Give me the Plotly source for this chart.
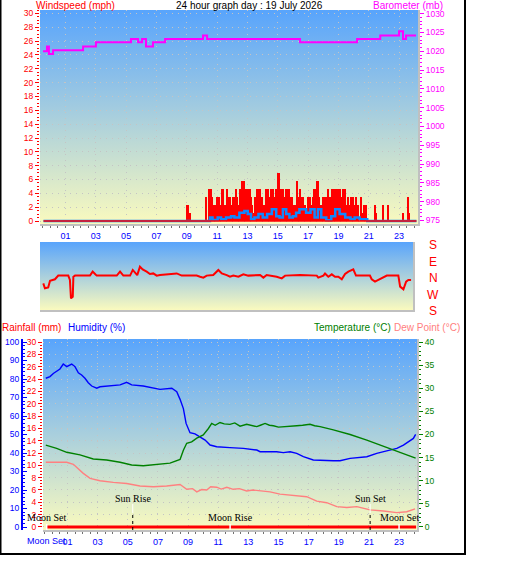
import base64
import plotly.graph_objects as go

# ---------------- data ----------------
hour_ticks = [1, 3, 5, 7, 9, 11, 13, 15, 17, 19, 21, 23]
hour_labels = ["01", "03", "05", "07", "09", "11", "13", "15", "17", "19", "21", "23"]
half_hours = [k * 0.5 for k in range(-1, 50)]

log_start = -0.45
log_end = 24.15

# wind gust (mph), 5-minute samples in the windy part of the day
gust_step = 1 / 12
gust_dense_start = 10.25
gust_dense_mph = [
    3.5, 0, 0, 4.6, 4.6, 3.5, 1.2, 2.3, 2.3, 3.5,
    1.2, 3.5, 2.3, 4.6, 4.6, 2.3, 1.2, 4.6, 3.5, 3.5,
    2.3, 1.2, 3.5, 3.5, 4.6, 3.5, 2.3, 4.6, 4.6, 5.8,
    5.8, 4.6, 3.5, 4.6, 4.6, 4.6, 3.5, 2.3, 1.2, 3.5,
    3.5, 4.6, 4.6, 4.6, 3.5, 3.5, 2.3, 1.2, 4.6, 4.6,
    3.5, 3.5, 4.6, 4.6, 3.5, 3.5, 4.6, 6.9, 6.9, 3.5,
    4.6, 4.6, 3.5, 3.5, 4.6, 4.6, 4.6, 3.5, 3.5, 2.3,
    1.2, 2.3, 5.8, 3.5, 3.5, 4.6, 3.5, 3.5, 2.3, 2.3,
    1.2, 3.5, 3.5, 3.5, 2.3, 3.5, 4.6, 4.6, 5.8, 5.8,
    3.5, 2.3, 1.2, 3.5, 3.5, 3.5, 2.3, 4.6, 3.5, 3.5,
    4.6, 4.6, 4.6, 4.6, 4.6, 4.6, 4.6, 3.5, 3.5, 4.6,
    4.6, 2.3, 1.2, 3.5, 2.3, 3.5, 1.2, 3.5, 2.3, 3.5,
    1.2, 2.3, 0, 3.5, 1.2, 2.3, 0, 2.3, 0,
]
gust_sparse_hours = [9.04, 9.12, 9.20, 21.42, 21.50, 21.97, 22.26, 23.27, 23.61, 23.69]
gust_sparse_mph = [2.3, 2.3, 1.2, 2.3, 1.2, 2.3, 2.3, 1.2, 3.5, 1.2]
gust_base_hours = [log_start, log_end]
gust_base_mph = [0, 0]

avg_hours = [-0.45, 10.45, 10.53, 10.7, 11.04, 11.26, 11.59, 11.92, 12.14, 12.47,
             12.8, 13.02, 13.24, 13.46, 13.73, 14.01, 14.3, 14.61, 14.9, 15.12,
             15.34, 15.56, 15.77, 15.99, 16.21, 16.43, 16.65, 16.87, 17.16, 17.43,
             17.65, 17.87, 18.2, 18.53, 18.79, 19.08, 19.45, 19.8, 20.07, 20.4,
             20.73, 20.9, 24.15]
avg_mph = [0, 0, 0.5, 0.15, 0.5, 0.25, 0.5, 0.7, 0.5, 1.2,
           1.45, 1.0, 0.25, 0.5, 1.0, 0.5, 1.0, 1.7, 0.7, 0.5,
           1.7, 1.0, 0.5, 0.7, 1.2, 1.7, 1.7, 1.2, 1.7, 0.5,
           1.7, 0.5, 0.1, 0.7, 1.7, 1.0, 0.5, 0.25, 0.5, 0.25,
           0.25, 0, 0]

baro_hours = [-0.48, -0.22, -0.09, 0.18, 2.16, 3.01, 5.32, 5.79, 6.05, 6.31, 6.77,
              7.57, 10.07, 10.34, 16.47, 20.23, 21.76, 23.0, 23.26, 23.46, 24.12]
baro_mb = [1020.0, 1021.3, 1019.3, 1020.3, 1021.3, 1022.4, 1023.3, 1022.4, 1023.3, 1021.3, 1022.4,
           1023.3, 1024.2, 1023.3, 1022.4, 1023.3, 1024.2, 1025.3, 1023.3, 1024.2, 1024.2]

# wind direction (degrees, N = 0, E positive, W negative)
dir_hours = [-0.43, -0.32, -0.10, 0.02, 0.35, 0.57, 1.24, 1.35, 1.42, 1.54, 1.58, 1.69,
             2.69, 2.87, 3.03, 3.14, 4.48, 4.70, 4.92, 5.37, 5.55, 5.70, 5.85, 6.03,
             6.21, 6.48, 6.70, 6.92, 7.15, 7.37, 8.26, 8.49, 8.82, 9.82, 10.05, 10.27,
             10.49, 10.93, 11.27, 11.50, 11.83, 12.05, 12.27, 12.61, 12.94, 13.27, 14.06,
             14.28, 14.50, 15.17, 15.51, 15.73, 16.73, 17.85, 17.95, 18.29, 18.40, 18.62,
             18.85, 19.07, 19.29, 19.52, 19.74, 19.96, 20.29, 20.47, 21.40, 21.52, 21.74,
             21.96, 22.41, 22.53, 23.30, 23.42, 23.64, 23.82, 23.97, 24.15]
dir_deg = [-29, -56, -51, -15, -7, 13, 13, -11, -111, -102, 7, 13,
           13, 35, 22, 13, 13, 35, 13, 13, 44, 29, 16, 62,
           47, 35, 22, 25, 13, 16, 22, 25, 13, 13, 7, 2,
           13, 16, 44, 25, 16, 7, 13, 7, 20, 13, 16,
           2, 16, 7, -2, 13, 16, 13, 2, 13, 25, 7,
           20, 7, 7, -7, 22, 35, 47, 13, 13, -7, -20,
           -11, 7, 13, 13, -47, -62, -20, -11, -11]
dir_tickvals = [180, 90, 0, -90, -180]
dir_ticktext = ["S", "E", "N", "W", "S"]

rain_hours = [-0.38, 6, 12, 18, 24.13]
rain_mm = [0, 0, 0, 0, 0]

hum_hours = [-0.44, -0.16, 0.06, 0.28, 0.5, 0.72, 0.95, 1.28, 1.5, 1.72, 1.94, 2.16, 2.38,
             2.61, 2.94, 3.16, 3.82, 4.49, 4.93, 5.26, 6.03, 6.59, 7.14, 7.92, 8.25, 8.47,
             8.69, 8.87, 9.02, 9.13, 9.46, 9.8, 10.13, 10.46, 10.9, 11.78, 12.67, 13.56,
             13.78, 14.88, 15.32, 15.77, 16.21, 16.65, 17.31, 18.64, 19.08, 19.75, 20.86,
             21.52, 22.4, 22.85, 23.29, 23.62, 23.95, 24.1]
hum_pct = [80.4, 81.3, 83, 84.3, 85.4, 88.1, 86.7, 88.1, 86.7, 83.4, 82.2, 80.4, 78,
           76.2, 75, 75.8, 76.2, 76.8, 78.2, 76.8, 76.2, 75.3, 74.4, 75, 73.1, 69,
           64, 56, 53, 51, 50.3, 48.8, 47, 44.3, 43.4, 42.9, 42.5, 41.6,
           40.7, 40.7, 40.2, 40.7, 39.8, 38, 36.2, 35.8, 35.8, 37.1, 38,
           39.8, 41.6, 42.5, 44.3, 46.1, 47.9, 50.1]

temp_hours = [-0.44, 0.28, 0.95, 1.83, 2.71, 3.6, 4.49, 5.26, 6.03, 6.92, 7.8, 8.47, 8.69,
              8.91, 9.24, 9.58, 10.01, 10.35, 10.57, 10.8, 11.12, 11.4, 11.78, 12.1, 12.45,
              12.89, 13.2, 13.56, 13.8, 14.11, 14.4, 14.66, 15.0, 15.32, 15.7, 16.21, 16.6,
              17.09, 17.4, 17.76, 18.64, 19.75, 20.86, 21.96, 22.85, 23.51, 24.1]
temp_c = [17.7, 17.0, 16.15, 15.6, 14.7, 14.5, 14.0, 13.4, 13.25, 13.6, 13.8, 14.6, 16.6,
          18.1, 18.4, 19.2, 19.9, 21.3, 22.4, 22.0, 22.6, 22.3, 22.2, 22.5, 21.8,
          22.2, 21.9, 21.7, 22.0, 22.4, 22.0, 21.9, 21.6, 21.7, 21.9, 21.9, 22.0,
          22.2, 21.9, 21.7, 21.0, 20.0, 18.8, 17.4, 16.3, 15.6, 14.9]

dew_hours = [-0.44, 0.28, 0.95, 1.39, 2.05, 2.5, 3.16, 4.04, 4.93, 5.81, 6.7, 7.58, 8.47,
             8.91, 9.3, 9.58, 9.9, 10.24, 10.5, 10.9, 11.2, 11.57, 12.0, 12.4, 12.89, 13.3,
             13.78, 14.44, 15.1, 15.99, 16.87, 17.54, 18.2, 18.87, 19.53, 20.2, 21.08,
             21.96, 22.85, 23.51, 24.06]
dew_c = [14.0, 14.0, 14.0, 13.55, 11.6, 10.5, 10.0, 9.65, 9.4, 8.86, 8.7, 8.86, 9.2,
         8.15, 8.3, 7.6, 8.1, 8.0, 8.7, 8.6, 8.2, 8.6, 8.15, 8.3, 7.8, 8.0,
         7.8, 7.6, 7.1, 6.9, 6.55, 5.6, 5.25, 4.4, 4.2, 4.4, 3.7,
         3.45, 3.1, 3.3, 3.9]

sun_rise_hour = 5.33
sun_set_hour = 21.08
moon_rise_hour = 11.79
moon_set_hours = [-0.38, 23.0]

title_text = "24 hour graph day : 19 July 2026"

# ---------------- helpers ----------------
W, H = 529, 563


def px(x):
    return x / W


def py(y):
    return 1 - y / H


FONT = "Liberation Sans"
GRID = "#c4c4c4"
BORDER = "#c0c0c0"

svg = ('<svg xmlns="http://www.w3.org/2000/svg" width="10" height="100" viewBox="0 0 10 100" '
       'preserveAspectRatio="none"><defs><linearGradient id="g" x1="0" y1="0" x2="0" y2="1">'
       '<stop offset="0" stop-color="#58a4fc"/><stop offset="1" stop-color="#fafabe"/>'
       '</linearGradient></defs><rect width="10" height="100" fill="url(#g)"/></svg>')
grad_uri = "data:image/svg+xml;base64," + base64.b64encode(svg.encode()).decode()


def grad(x0, x1, y0, y1):
    return dict(source=grad_uri, xref="paper", yref="paper", x=px(x0), y=py(y0),
                sizex=px(x1) - px(x0), sizey=(y1 - y0) / H, sizing="stretch",
                xanchor="left", yanchor="top", layer="below")


gust_hours = gust_sparse_hours[:3] + [gust_dense_start + i * gust_step for i in range(len(gust_dense_mph))] + gust_sparse_hours[3:]
gust_mph = gust_sparse_mph[:3] + gust_dense_mph + gust_sparse_mph[3:]

fig = go.Figure()

# top panel
fig.add_trace(go.Bar(x=gust_hours, y=gust_mph, width=gust_step, marker=dict(color="#ff0000", line_width=0),
                     xaxis="x", yaxis="y"))
fig.add_trace(go.Scatter(x=avg_hours, y=avg_mph, mode="lines", line=dict(color="#1088ff", width=2.5, shape="hv"),
                         xaxis="x", yaxis="y"))
fig.add_trace(go.Scatter(x=gust_base_hours, y=gust_base_mph, mode="lines", line=dict(color="#ff0000", width=1.3),
                         xaxis="x", yaxis="y"))
fig.add_trace(go.Scatter(x=baro_hours, y=baro_mb, mode="lines", line=dict(color="#ff00ff", width=2, shape="hv"),
                         xaxis="x", yaxis="y2"))

# middle panel
fig.add_trace(go.Scatter(x=dir_hours, y=dir_deg, mode="lines", line=dict(color="#ff0000", width=2),
                         xaxis="x2", yaxis="y3"))

# bottom panel
fig.add_trace(go.Scatter(x=rain_hours, y=rain_mm, mode="lines", line=dict(color="#ff0000", width=3),
                         xaxis="x3", yaxis="y4"))
fig.add_trace(go.Scatter(x=hum_hours, y=hum_pct, mode="lines", line=dict(color="#0000ff", width=1.4),
                         xaxis="x3", yaxis="y5"))
fig.add_trace(go.Scatter(x=temp_hours, y=temp_c, mode="lines", line=dict(color="#008000", width=1.4),
                         xaxis="x3", yaxis="y6"))
fig.add_trace(go.Scatter(x=dew_hours, y=dew_c, mode="lines", line=dict(color="#ff8080", width=1.4),
                         xaxis="x3", yaxis="y6"))

hour_axis = dict(tickmode="array", tickvals=hour_ticks, ticktext=hour_labels,
                 tickfont=dict(family=FONT, size=9, color="#0000ff"),
                 ticks="outside", ticklen=2, tickcolor="#707070",
                 minor=dict(tickmode="array", tickvals=half_hours, ticks="outside", ticklen=2,
                            tickcolor="#707070", showgrid=False),
                 showgrid=True, gridcolor=GRID, griddash="1px,5px", gridwidth=1,
                 showline=True, linecolor=BORDER, linewidth=2, zeroline=False)


def yax(color, **kw):
    d = dict(tickfont=dict(family=FONT, size=8.5, color=color), ticks="outside", ticklen=4,
             tickcolor=color, zeroline=False, showgrid=False, tickmode="linear")
    d.update(kw)
    return d


DIR_DOMAIN = [py(310), py(242)]
DIR_RANGE = [-174.5, 196.4]

fig.update_layout(
    width=W, height=H, margin=dict(l=0, r=0, t=0, b=0),
    paper_bgcolor="white", plot_bgcolor="rgba(0,0,0,0)",
    template="none", showlegend=False, bargap=0,
    font=dict(family=FONT),
    xaxis=dict(domain=[px(40), px(418)], range=[-0.68, 24.25], anchor="y", **hour_axis),
    yaxis=yax("#ff0000", domain=[py(224), py(10)], range=[-0.43, 30.5], tick0=0, dtick=2, anchor="x",
              showgrid=True, gridcolor=GRID, griddash="1px,5px",
              minor=dict(dtick=0.5, tick0=0, ticks="outside", ticklen=2, tickcolor="#ff0000", showgrid=False)),
    yaxis2=yax("#ff00ff", overlaying="y", side="right", anchor="x", range=[974.07, 1030.98], tick0=975, dtick=5,
               showline=True, linecolor=BORDER, linewidth=2,
               minor=dict(dtick=1, tick0=975, ticks="outside", ticklen=2, tickcolor="#ff00ff", showgrid=False)),
    xaxis2=dict(domain=[px(40), px(413)], range=[-0.65, 24.28], anchor="y3", showticklabels=False,
                ticks="", showgrid=False, zeroline=False, showline=True, linecolor=BORDER, linewidth=2),
    yaxis3=dict(domain=DIR_DOMAIN, range=DIR_RANGE, anchor="x2", side="right",
                showticklabels=False, ticks="",
                showgrid=False, zeroline=False, showline=True, linecolor=BORDER, linewidth=2),
    xaxis3=dict(domain=[px(43), px(417)], range=[-0.624, 24.19], anchor="y4", **hour_axis),
    yaxis4=yax("#ff0000", domain=[py(530), py(339)], range=[-0.49, 30.49], anchor="x3", tick0=0, dtick=2,
               showgrid=True, gridcolor=GRID, griddash="1px,5px",
               minor=dict(dtick=0.5, tick0=0, ticks="outside", ticklen=2, tickcolor="#ff0000", showgrid=False)),
    yaxis5=yax("#0000ff", overlaying="y4", anchor="free", position=px(22), side="left",
               range=[-1.62, 101.62], tick0=0, dtick=10, ticks="inside",
               showline=True, linecolor="#0000ff", linewidth=2,
               minor=dict(dtick=2, tick0=0, ticks="inside", ticklen=2, tickcolor="#0000ff", showgrid=False)),
    yaxis6=yax("#008000", overlaying="y4", anchor="x3", side="right", range=[-0.65, 40.65], tick0=0, dtick=5,
               showline=True, linecolor=BORDER, linewidth=2,
               minor=dict(dtick=1, tick0=0, ticks="outside", ticklen=2, tickcolor="#008000", showgrid=False)),
    images=[grad(40, 418, 10, 224), grad(40, 413, 242, 310), grad(43, 417, 339, 530)],
)

# frame
shapes = [dict(type="rect", xref="paper", yref="paper", x0=px(0.5), x1=px(465), y0=py(554), y1=py(-3),
               line=dict(color="black", width=2), fillcolor="rgba(0,0,0,0)", layer="above")]
# sun / moon markers
for h in [sun_rise_hour, sun_set_hour]:
    shapes.append(dict(type="line", xref="x3", yref="paper", x0=h, x1=h, y0=py(513), y1=py(504),
                       line=dict(color="white", width=1)))
    shapes.append(dict(type="line", xref="x3", yref="paper", x0=h, x1=h, y0=py(530), y1=py(513),
                       line=dict(color="black", width=1, dash="dot")))
for h in [moon_rise_hour] + moon_set_hours:
    shapes.append(dict(type="line", xref="x3", yref="paper", x0=h, x1=h, y0=py(530), y1=py(524),
                       line=dict(color="white", width=1.5)))
fig.update_layout(shapes=shapes)

ann = []


def label(text, x, y, color, size=10, xanchor="center", xref="paper", yref="paper", family=FONT):
    ann.append(dict(text=text, x=x, y=y, xref=xref, yref=yref, showarrow=False, xanchor=xanchor,
                    yanchor="middle", font=dict(family=family, size=size, color=color)))


label("Windspeed (mph)", px(75), py(5.5), "#ff0000")
label(title_text, px(249), py(5.5), "black")
label("Barometer (mb)", px(407.5), py(5.5), "#ff00ff")
label("Rainfall (mm)", px(0), py(327), "#ff0000", xanchor="left")
label("Humidity (%)", px(66), py(327), "#0000ff", xanchor="left")
label("Temperature (°C)", px(312), py(327), "#008000", xanchor="left")
label("Dew Point (°C)", px(392), py(327), "#ff8080", xanchor="left")


# wind direction scale letters beside the middle panel (mapped through the y3 scale)
def dir_to_paper(v):
    return DIR_DOMAIN[0] + (v - DIR_RANGE[0]) / (DIR_RANGE[1] - DIR_RANGE[0]) * (DIR_DOMAIN[1] - DIR_DOMAIN[0])


for v, t in zip(dir_tickvals, dir_ticktext):
    label(t, px(433), dir_to_paper(v), "#ff0000", size=12)

SERIF = "Liberation Serif"
label("Sun Rise", sun_rise_hour, py(498), "black", size=10, xref="x3", family=SERIF)
label("Sun Set", sun_set_hour, py(498), "black", size=10, xref="x3", family=SERIF)
label("Moon Rise", moon_rise_hour, py(517), "black", size=10, xref="x3", family=SERIF)
for h in moon_set_hours:
    label("Moon Set", h, py(517), "black", size=10, xref="x3", family=SERIF)
label("Moon Set", moon_set_hours[0], py(541), "#0000ff", size=9, xref="x3")
fig.update_layout(annotations=ann)

fig.write_html("out.html")
